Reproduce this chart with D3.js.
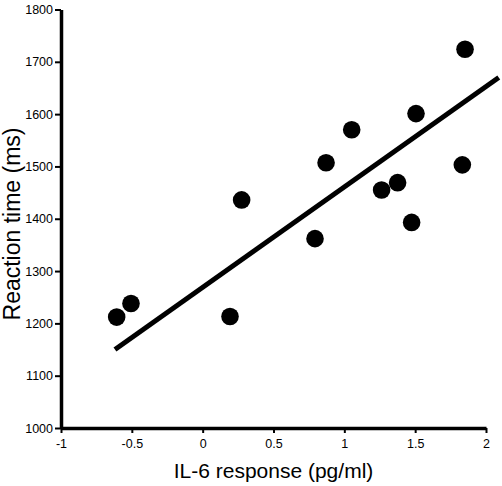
<!DOCTYPE html>
<html>
<head>
<meta charset="utf-8">
<script src="https://cdn.jsdelivr.net/npm/d3@7"></script>
<style>
  html, body { margin: 0; padding: 0; background: #fff; }
  svg { display: block; }
  text { font-family: Arial, "Liberation Sans", sans-serif; fill: #000; }
</style>
</head>
<body>
<svg id="chart" width="502" height="486"></svg>
<script>
// Data
const il6 = [-0.607, -0.506, 0.193, 0.275, 0.793, 0.871, 1.052, 1.263, 1.376, 1.475, 1.506, 1.833, 1.852];
const reactionTime = [1212, 1238, 1213, 1436, 1362, 1507, 1570, 1455, 1469, 1393, 1601, 1503, 1724];
const fitX = [-0.619, 2.09];
const fitY = [1150, 1670];
const xTicks = [-1, -0.5, 0, 0.5, 1, 1.5, 2];
const yTicks = [1000, 1100, 1200, 1300, 1400, 1500, 1600, 1700, 1800];
const xTitle = "IL-6 response (pg/ml)";
const yTitle = "Reaction time (ms)";

const svg = d3.select("#chart");
const x = d3.scaleLinear().domain([-1, 2]).range([61, 486]);
const y = d3.scaleLinear().domain([1000, 1800]).range([428, 9.5]);

// Axes
const xAxis = svg.append("g")
  .attr("transform", `translate(0,${y(1000)})`)
  .call(d3.axisBottom(x).tickValues(xTicks).tickFormat(d => String(d)).tickSize(5).tickSizeOuter(0).tickPadding(6));
const yAxis = svg.append("g")
  .attr("transform", `translate(${x(-1)},0)`)
  .call(d3.axisLeft(y).tickValues(yTicks).tickFormat(d => String(d)).tickSize(6).tickSizeOuter(0).tickPadding(2));

[xAxis, yAxis].forEach(g => {
  g.select(".domain").attr("stroke", "#000").attr("stroke-width", 3.5);
  g.selectAll(".tick line").attr("stroke", "#000").attr("stroke-width", 2);
  g.selectAll(".tick text").attr("font-size", 12.5).attr("fill", "#111")
    .attr("font-family", 'Arial, "Liberation Sans", sans-serif');
});

// Fit line
svg.append("line")
  .attr("x1", x(fitX[0])).attr("y1", y(fitY[0]))
  .attr("x2", x(fitX[1])).attr("y2", y(fitY[1]))
  .attr("stroke", "#000").attr("stroke-width", 5);

// Points
svg.append("g").selectAll("circle")
  .data(il6.map((v, i) => [v, reactionTime[i]]))
  .join("circle")
  .attr("cx", d => x(d[0])).attr("cy", d => y(d[1]))
  .attr("r", 8.8).attr("fill", "#000");

// Titles
svg.append("text")
  .attr("x", (x(-1) + x(2)) / 2).attr("y", 478)
  .attr("text-anchor", "middle").attr("font-size", 21)
  .text(xTitle);
svg.append("text")
  .attr("transform", `translate(20,224) rotate(-90)`)
  .attr("text-anchor", "middle").attr("font-size", 23)
  .text(yTitle);
</script>
</body>
</html>
